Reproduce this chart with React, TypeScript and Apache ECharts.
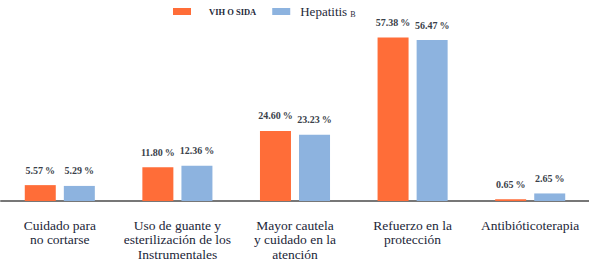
import React, { useEffect, useRef } from "react";
import * as echarts from "echarts";

const categories = [
  "Cuidado para\nno cortarse",
  "Uso de guante y\nesterilización de los\nInstrumentales",
  "Mayor cautela\ny cuidado en la\natención",
  "Refuerzo en la\nprotección",
  "Antibióticoterapia",
];
const vihValues = [5.57, 11.8, 24.6, 57.38, 0.65];
const hepValues = [5.29, 12.36, 23.23, 56.47, 2.65];
const seriesNames = ["VIH O SIDA", "Hepatitis B"];

export default function App() {
  const ref = useRef<HTMLDivElement>(null);
  useEffect(() => {
    if (!ref.current) return;
    const chart = echarts.init(ref.current, null, { renderer: "svg" });
    const labelCfg = {
      show: true,
      position: "top",
      distance: 10,
      fontFamily: "Liberation Serif",
      fontWeight: "bold",
      fontSize: 10,
      color: "#3a3f4a",
      formatter: (p: any) => p.value.toFixed(2) + "\u2009%",
    };
    chart.setOption({
      animation: false,
      backgroundColor: "#ffffff",
      legend: {
        top: 0,
        left: 168,
        itemWidth: 18,
        itemHeight: 7,
        itemGap: 16,
        icon: "rect",
        data: seriesNames,
        formatter: (name: string) =>
          name === "VIH O SIDA" ? "{v|VIH O SIDA}" : "{h|Hepatitis} {b|B}",
        textStyle: {
          fontFamily: "Liberation Serif",
          color: "#1f2a3a",
          rich: {
            v: { fontSize: 8.5, fontWeight: "bold", padding: [0, 0, 0, 13], fontFamily: "Liberation Serif", color: "#1f2a3a" },
            h: { fontSize: 13, fontFamily: "Liberation Serif", color: "#1f2a3a", padding: [0, 0, 0, 5] },
            b: { fontSize: 8, fontFamily: "Liberation Serif", color: "#1f2a3a", padding: [6, 0, 0, 0] },
          },
        },
      },
      grid: { left: 1, right: -1, top: 30, bottom: 63, containLabel: false },
      xAxis: {
        type: "category",
        data: categories,
        axisLine: { lineStyle: { color: "#777777", width: 2 } },
        axisTick: { show: false },
        axisLabel: {
          interval: 0,
          margin: 17,
          fontFamily: "Liberation Serif",
          fontSize: 13.5,
          lineHeight: 14.5,
          color: "#1b2638",
        },
      },
      yAxis: {
        type: "value",
        min: 0,
        max: 60,
        show: false,
        splitLine: { show: false },
      },
      series: [
        {
          name: seriesNames[0],
          type: "bar",
          data: vihValues,
          barWidth: 31,
          barGap: "26%",
          itemStyle: { color: "#FF6D38" },
          label: labelCfg,
        },
        {
          name: seriesNames[1],
          type: "bar",
          data: hepValues,
          barWidth: 31,
          barGap: "26%",
          itemStyle: { color: "#8DB3DF" },
          label: labelCfg,
        },
      ],
    });
    return () => chart.dispose();
  }, []);
  return <div ref={ref} style={{ width: 589, height: 264, position: "absolute", left: 0, top: 0 }} />;
}
